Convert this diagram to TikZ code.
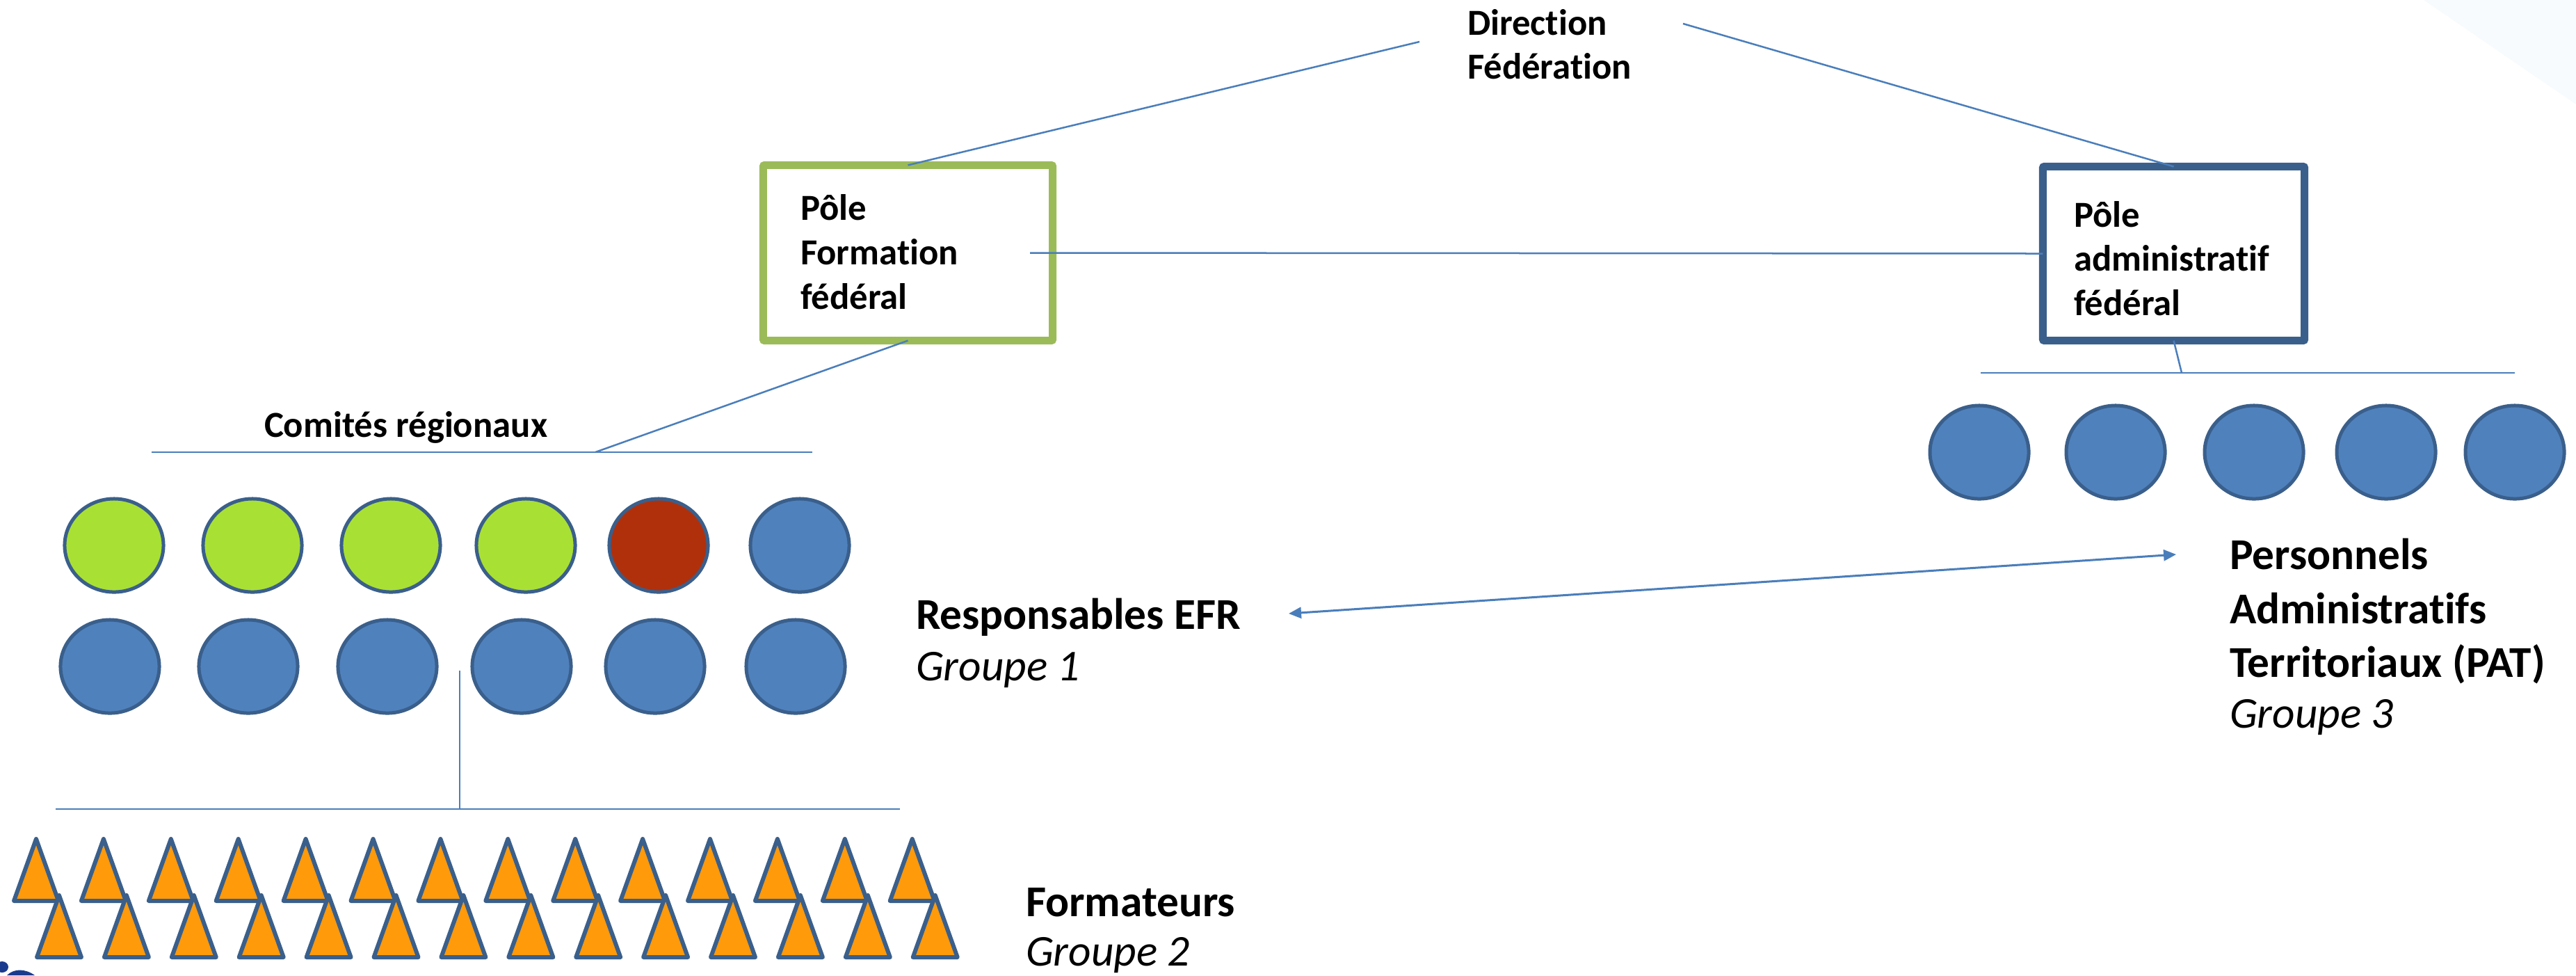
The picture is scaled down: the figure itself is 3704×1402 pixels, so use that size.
\documentclass[tikz,border=0pt]{standalone}
\usepackage{fontspec}
\setmainfont{Carlito}[Ligatures=CommonOff]
\usetikzlibrary{shapes.geometric,arrows.meta}
\definecolor{lineblue}{HTML}{4A7EBB}
\definecolor{gborder}{HTML}{9BBB59}
\definecolor{dblue}{HTML}{3A5F8B}
\definecolor{fblue}{HTML}{4F81BD}
\definecolor{fgreen}{HTML}{A9E034}
\definecolor{fred}{HTML}{B0300C}
\definecolor{forange}{HTML}{FF9A0B}
\definecolor{faintblue}{HTML}{F7FBFD}
\definecolor{logoblue}{HTML}{1B3C8E}
\begin{document}
\begin{tikzpicture}[x=0.01cm,y=-0.01cm,
  conn/.style={draw=lineblue,line width=0.025cm},
  lbl/.style={anchor=base west,inner sep=0,outer sep=0,font=\fontsize{15}{18}\selectfont\bfseries},
  biglbl/.style={anchor=base west,inner sep=0,outer sep=0,font=\fontsize{18}{22}\selectfont\bfseries},
  bigit/.style={anchor=base west,inner sep=0,outer sep=0,font=\fontsize{18}{22}\selectfont\itshape},
  pole/.style={rectangle,line width=0.11cm,rounded corners=0.02cm,inner sep=0,outer sep=0},
  dot/.style={ellipse,draw=dblue,line width=0.05cm,minimum width=1.42cm,minimum height=1.34cm,inner sep=0,outer sep=0},
  tri/.style={draw=dblue,fill=forange,line width=0.06cm,line join=round}]
\fill[white] (0,0) rectangle (3704,1402);
\useasboundingbox (0,0) rectangle (3704,1402);
% faint corner
\fill[faintblue] (3485,0) -- (3704,0) -- (3704,150) -- cycle;
% logo fragment
\fill[logoblue] (3,1390) ellipse (9 and 8);
\fill[logoblue] (10,1402) .. controls (20,1392) and (36,1392) .. (50,1402) -- cycle;

% boxes
\node[pole,draw=gborder,minimum width=4.16cm,minimum height=2.52cm] (gbox) at (1305.5,363.5) {};
\node[pole,draw=dblue,minimum width=3.76cm,minimum height=2.50cm] (bbox) at (3125.5,364.5) {};

% texts
\node[lbl] (dir1) at (2110,50) {Direction};
\node[lbl] (dir2) at (2110,113) {Fédération};
\node[lbl] (gt1) at (1151,316) {Pôle};
\node[lbl] (gt2) at (1151,380) {Formation};
\node[lbl] (gt3) at (1151,444) {fédéral};
\node[lbl] (bt1) at (2982,326) {Pôle};
\node[lbl] (bt2) at (2982,389) {administratif};
\node[lbl] (bt3) at (2982,453) {fédéral};
\node[lbl] (cr) at (380,628) {Comités régionaux};
\node[biglbl] (efr) at (1317,904) {Responsables EFR};
\node[bigit] (g1) at (1317,978) {Groupe 1};
\node[biglbl] (pat1) at (3206,818) {Personnels};
\node[biglbl] (pat2) at (3206,896) {Administratifs};
\node[biglbl] (pat3) at (3206,973) {Territoriaux (PAT)};
\node[bigit] (g3) at (3206,1046) {Groupe 3};
\node[biglbl] (fmt) at (1475,1317) {Formateurs};
\node[bigit] (g2) at (1475,1388) {Groupe 2};

% left ellipses
\foreach \x/\c [count=\i] in {164/fgreen,363/fgreen,562/fgreen,756/fgreen,947/fred,1150/fblue}
  \node[dot,fill=\c] (ea\i) at (\x,784) {};
\foreach \x [count=\i] in {158,357,557,750,942,1144}
  \node[dot,fill=fblue] (eb\i) at (\x,958) {};
% right ellipses
\foreach \x [count=\i] in {2846,3042,3241,3431,3616}
  \node[dot,fill=fblue] (pa\i) at (\x,650) {};

% triangles
\foreach \i in {0,...,13}
  \draw[tri] ({52+96.9*\i},1206) -- ({52+96.9*\i+32},1295) -- ({52+96.9*\i-32},1295) -- cycle;
\foreach \i in {0,...,13}
  \draw[tri] ({85+96.9*\i},1287) -- ({85+96.9*\i+32},1376) -- ({85+96.9*\i-32},1376) -- cycle;

% coordinates
\coordinate (dirL) at (2041,60);
\coordinate (dirR) at (2420,34);
\coordinate (crA) at (218,650);
\coordinate (crB) at (1168,650);
\coordinate (crJ) at (856,650);
\coordinate (paA) at (2848,536);
\coordinate (paB) at (3616,536);
\coordinate (paJ) at (3137,536);
\coordinate (stubT) at (661,964);
\coordinate (fmA) at (80,1163);
\coordinate (fmB) at (1294,1163);
\coordinate (fmJ) at (661,1163);
\coordinate (arrL) at (1853,882);
\coordinate (arrR) at (3129,797);

% connectors
\draw[conn] (dirL) -- (gbox.north);
\draw[conn] (dirR) -- (bbox.north);
\draw[conn] ([xshift=-0.325cm]gbox.east) -- (bbox.west);
\draw[conn] (gbox.south) -- (crJ);
\draw[conn] (crA) -- (crB);
\draw[conn] (bbox.south) -- (paJ);
\draw[conn] (paA) -- (paB);
\draw[conn] (stubT) -- (fmJ);
\draw[conn] (fmA) -- (fmB);
\draw[conn,line width=0.03cm,{Triangle[length=0.18cm,width=0.16cm]}-{Triangle[length=0.18cm,width=0.16cm]}] (arrL) -- (arrR);
\end{tikzpicture}
\end{document}
